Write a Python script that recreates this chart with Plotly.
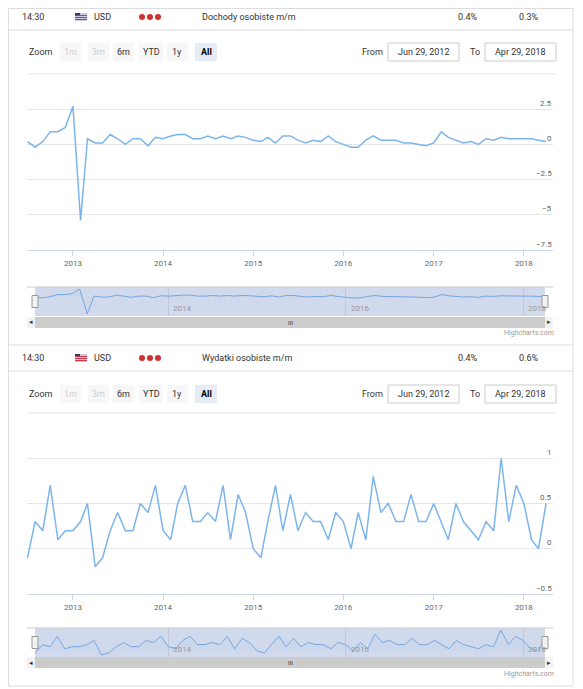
import plotly.graph_objects as go
import pandas as pd

W, H = 583, 689
OFF = 8  # default page body margin
dates = pd.date_range("2012-07-01", periods=70, freq="MS")

income = [0.2, -0.2, 0.2, 0.9, 0.9, 1.2, 2.7, -5.4, 0.4, 0.1, 0.1, 0.7, 0.4, 0.0, 0.4, 0.4, -0.1, 0.5,
          0.4, 0.6, 0.7, 0.7, 0.4, 0.4, 0.6, 0.4, 0.6, 0.4, 0.6, 0.5, 0.3, 0.2,
          0.5, 0.1, 0.6, 0.6, 0.3, 0.1, 0.3, 0.2, 0.6, 0.2, 0.0,
          -0.2, -0.2, 0.3, 0.6, 0.3, 0.3, 0.3, 0.1, 0.1, 0.0, -0.1,
          0.1, 0.9, 0.5, 0.3, 0.1, 0.2, 0.0, 0.4, 0.3, 0.5, 0.4, 0.4,
          0.4, 0.4, 0.3, 0.2]
spending = [-0.1, 0.3, 0.2, 0.7, 0.1, 0.2, 0.2, 0.3, 0.5, -0.2, -0.1, 0.2, 0.4, 0.2, 0.2, 0.5, 0.4, 0.7,
            0.2, 0.1, 0.5, 0.7, 0.3, 0.3, 0.4, 0.3, 0.7, 0.1, 0.6, 0.4, 0.0, -0.1,
            0.3, 0.7, 0.2, 0.6, 0.2, 0.4, 0.3, 0.3, 0.1, 0.4, 0.3,
            0.0, 0.4, 0.1, 0.8, 0.4, 0.5, 0.3, 0.3, 0.6, 0.3, 0.3,
            0.5, 0.3, 0.1, 0.5, 0.3, 0.2, 0.1, 0.3, 0.2, 1.0, 0.3, 0.7,
            0.5, 0.1, 0.0, 0.5]
titles = ["Dochody osobiste m/m", "Wydatki osobiste m/m"]
actual = ["0.4%", "0.4%"]
forecast = ["0.3%", "0.6%"]
y_ticks = [[-7.5, -5, -2.5, 0, 2.5], [-0.5, 0, 0.5, 1]]
y_ranges = [[-7.5, 5], [-0.5, 1.5]]
years = [2013, 2014, 2015, 2016, 2017, 2018]
nav_years = [2014, 2016, 2018]
buttons = ["1m", "3m", "6m", "YTD", "1y", "All"]

FW, FH = W - OFF, H - OFF
def px(x): return (x - OFF) / FW
def py(y): return 1 - (y - OFF) / FH

LINE = "#7cb5ec"
FONT = "Roboto, Open Sans, sans-serif"
fig = go.Figure()
shapes, ann = [], []

def rect(x0, y0, x1, y1, fill=None, line=None, lw=1):
    shapes.append(dict(type="rect", xref="paper", yref="paper", x0=x0, x1=x1, y0=y0, y1=y1,
                       fillcolor=fill or "rgba(0,0,0,0)", line=dict(color=line or "rgba(0,0,0,0)", width=lw if line else 0),
                       layer="below" if fill and not line else "above"))

def text(x, y, t, size=10, color="#333", xa="left", bold=False):
    ann.append(dict(x=px(x), y=py(y), xref="paper", yref="paper", text=f"<b>{t}</b>" if bold else t,
                    showarrow=False, xanchor=xa, yanchor="middle", font=dict(size=size, color=color, family=FONT)))

def hline(x0, x1, y, color="#e6e6e6", w=1):
    shapes.append(dict(type="line", xref="paper", yref="paper", x0=px(x0), x1=px(x1), y0=py(y), y1=py(y), line=dict(color=color, width=w)))

rect(px(8.5), py(686), px(573), py(8.5), line="#dddddd")

sections = [
    dict(head=17, zoom=52, top=74, bot=250, nav=(287, 316), sb=(317, 328), hc=333),
    dict(head=358, zoom=394, top=413, bot=594, nav=(628, 657), sb=(657, 668), hc=674),
]
series = [income, spending]
for i, s in enumerate(sections):
    k = "" if i == 0 else str(2 * i + 1)
    kn = str(2 * i + 2)
    if i == 1:
        hline(5, 573, 345, "#dddddd")
    text(20, s["head"], "14:30", 9)
    rect(px(75), py(s["head"] + 4), px(87), py(s["head"] - 4), fill="#c9c9e6")
    rect(px(75), py(s["head"] - 1), px(80), py(s["head"] - 4), fill="#3c3b6e")
    for j in range(3):
        rect(px(75), py(s["head"] + 3 - j * 2), px(87), py(s["head"] + 2 - j * 2), fill="#c8374a")
    text(92, s["head"], "USD", 9)
    for j in range(3):
        shapes.append(dict(type="circle", xref="paper", yref="paper", x0=px(139 + j * 8), x1=px(145 + j * 8),
                           y0=py(s["head"] + 3), y1=py(s["head"] - 3), fillcolor="#d32f2f", line=dict(width=0)))
    text(200, s["head"], titles[i], 9)
    text(456, s["head"], actual[i], 9)
    text(517, s["head"], forecast[i], 9)
    hline(5, 573, s["head"] + 13, "#dddddd")
    text(27, s["zoom"], "Zoom", 9)
    bx = [60, 88, 113, 139, 167, 195]
    bw = [21, 21, 21, 24, 21, 22]
    for j, b in enumerate(buttons):
        col = "#e6ebf5" if b == "All" else "#f7f7f7"
        rect(px(bx[j]), py(s["zoom"] + 9), px(bx[j] + bw[j]), py(s["zoom"] - 9), fill=col)
        tc = "#cccccc" if b in ("1m", "3m") else ("#000" if b == "All" else "#333")
        text(bx[j] + bw[j] / 2, s["zoom"], b, 9, tc, "center", bold=(b == "All"))
    text(360, s["zoom"], "From", 9, "#333")
    rect(px(388), py(s["zoom"] + 9), px(459), py(s["zoom"] - 9), line="#cccccc")
    text(423, s["zoom"], "Jun 29, 2012", 9, "#333", "center")
    text(468, s["zoom"], "To", 9, "#333")
    rect(px(485), py(s["zoom"] + 9), px(556), py(s["zoom"] - 9), line="#cccccc")
    text(520, s["zoom"], "Apr 29, 2018", 9, "#333", "center")
    hline(27, 555, s["top"], "#e6e6e6")

    fig.add_trace(go.Scatter(x=dates, y=series[i], mode="lines", line=dict(color=LINE, width=1.5),
                             xaxis="x" + k, yaxis="y" + k, hoverinfo="skip"))
    fig.layout["xaxis" + k] = dict(domain=[px(27), px(553)], anchor="y" + k, range=["2012-06-29", "2018-04-29"],
                                   showgrid=False, tickvals=[f"{y}-01-01" for y in years], ticktext=[str(y) for y in years],
                                   ticks="outside", ticklen=5, tickcolor="#ccd6eb", showline=True, linecolor="#ccd6eb",
                                   tickfont=dict(size=8, color="#666", family=FONT), zeroline=False)
    fig.layout["yaxis" + k] = dict(domain=[py(s["bot"]), py(s["top"])], anchor="x" + k, range=y_ranges[i],
                                   tickvals=y_ticks[i], showticklabels=False, gridcolor="#e6e6e6", zeroline=False)
    for v in y_ticks[i]:
        frac = (v - y_ranges[i][0]) / (y_ranges[i][1] - y_ranges[i][0])
        ypx = s["bot"] - frac * (s["bot"] - s["top"])
        lab = ("−" + f"{abs(v):g}") if v < 0 else f"{v:g}"
        text(554, ypx - 6, lab, 8, "#666", "right")

    n0, n1 = s["nav"]
    fig.add_trace(go.Scatter(x=dates, y=series[i], mode="lines", line=dict(color=LINE, width=1),
                             fill="tozeroy", fillcolor="rgba(124,181,236,0.05)",
                             xaxis="x" + kn, yaxis="y" + kn, hoverinfo="skip"))
    lo, hi = min(series[i]), max(series[i])
    pad = (hi - lo) * 0.08
    fig.layout["xaxis" + kn] = dict(domain=[px(35), px(545)], anchor="y" + kn, range=[dates[0], dates[-1]],
                                    tickvals=[f"{y}-01-01" for y in nav_years], showticklabels=False,
                                    showgrid=True, gridcolor="#e6e6e6", zeroline=False)
    fig.layout["yaxis" + kn] = dict(domain=[py(n1), py(n0)], anchor="x" + kn, range=[lo - pad, hi + pad],
                                    visible=False)
    rect(px(35), py(n1), px(545), py(n0), fill="rgba(102,133,194,0.3)")
    shapes[-1]["layer"] = "above"
    hline(27, 553, n0, "#cccccc")
    for y in nav_years:
        frac = (pd.Timestamp(f"{y}-01-01") - dates[0]) / (dates[-1] - dates[0])
        text(35 + frac * 510 + 3, n1 - 8, str(y), 8, "#999")
    for hx in (35, 545):
        rect(px(hx - 3), py((n0 + n1) / 2 + 6), px(hx + 3), py((n0 + n1) / 2 - 6), fill="#f2f2f2", line="#999999")
    b0, b1 = s["sb"]
    rect(px(27), py(b1), px(553), py(b0), fill="#f2f2f2")
    rect(px(35), py(b1), px(545), py(b0), fill="#cccccc")
    text(31, (b0 + b1) / 2, "◂", 7, "#333", "center")
    text(549, (b0 + b1) / 2, "▸", 7, "#333", "center")
    text(290, (b0 + b1) / 2, "III", 6, "#333", "center")
    text(556, s["hc"], "Highcharts.com", 7, "#999", "right")

fig.update_layout(width=FW, height=FH, margin=dict(l=0, r=0, t=0, b=0), showlegend=False,
                  paper_bgcolor="white", plot_bgcolor="white", shapes=shapes, annotations=ann,
                  font=dict(family=FONT))
fig.write_html("out.html")
